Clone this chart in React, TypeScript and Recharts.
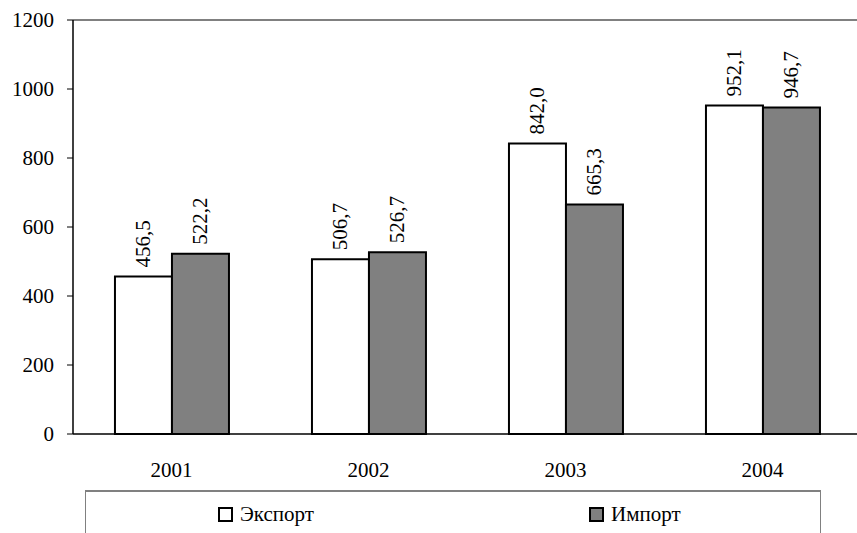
import React from 'react';
import { BarChart, Bar, XAxis, YAxis, ReferenceLine, LabelList, Legend } from 'recharts';

const years = ['2001', '2002', '2003', '2004'];
const exportVals = [456.5, 506.7, 842.0, 952.1];
const importVals = [522.2, 526.7, 665.3, 946.7];
const yTicks = [0, 200, 400, 600, 800, 1000, 1200];
const boundaryTicks = [0, 1, 2, 3, 4];
const seriesNames = ['Экспорт', 'Импорт'];

const data = years.map((y, i) => ({ year: y, exp: exportVals[i], imp: importVals[i] }));

const FONT = 'Liberation Serif';
const FS = 21;
const fmt = (v: number) => v.toFixed(1).replace('.', ',');

const RotLabel = (props: any) => {
  const { x, y, width, value } = props;
  const cx = x + width / 2;
  const ty = y - 9;
  return (
    <text
      x={cx}
      y={ty}
      transform={`rotate(-90, ${cx}, ${ty})`}
      textAnchor="start"
      dominantBaseline="central"
      style={{ fontFamily: FONT, fontSize: FS }}
      fill="#000"
    >
      {fmt(value)}
    </text>
  );
};

const XTick = (props: any) => {
  const { x, y, payload } = props;
  return (
    <text x={x} y={y} dy="0.71em" textAnchor="middle" fill="#000" style={{ fontFamily: FONT, fontSize: FS }}>
      {payload.value}
    </text>
  );
};

const YTick = (props: any) => {
  const { x, y, payload } = props;
  return (
    <text x={x} y={y} dy="0.355em" textAnchor="end" fill="#000" style={{ fontFamily: FONT, fontSize: FS }}>
      {payload.value}
    </text>
  );
};

const LegendBox = () => {
  const fills = ['#ffffff', '#808080'];
  const lefts = [132, 503];
  return (
    <div
      style={{
        position: 'relative',
        width: 736,
        height: 80,
        borderTop: '2px solid #808080',
        borderLeft: '1px solid #808080',
        borderRight: '1px solid #808080',
        boxSizing: 'border-box',
        color: '#000',
      }}
    >
      {seriesNames.map((n, i) => (
        <div key={n} style={{ position: 'absolute', left: lefts[i], top: 9, display: 'flex', alignItems: 'center' }}>
          <span
            style={{
              display: 'inline-block',
              width: 15,
              height: 15,
              boxSizing: 'border-box',
              border: '2px solid #000',
              background: fills[i],
              marginRight: 7,
            }}
          />
          <span style={{ lineHeight: '26px', fontFamily: FONT, fontSize: FS }}>{n}</span>
        </div>
      ))}
    </div>
  );
};

export default function App() {
  return (
    <div style={{ position: 'absolute', left: 0, top: 0, width: 857, height: 533, overflow: 'hidden', background: '#fff' }}>
      <BarChart
        width={880}
        height={533}
        data={data}
        margin={{ top: 20, right: 19, left: 0, bottom: 0 }}
        barCategoryGap="21.3%"
        barGap={0}
      >
        <XAxis
          xAxisId="grid"
          type="number"
          domain={[0, 4]}
          ticks={boundaryTicks}
          tick={false}
          tickSize={6}
          height={98}
          axisLine={false}
          tickLine={{ stroke: '#000' }}
          allowDataOverflow
        />
        <XAxis
          xAxisId="cat"
          dataKey="year"
          axisLine={{ stroke: '#000', strokeWidth: 1.5 }}
          tickLine={false}
          tickSize={0}
          tickMargin={28}
          height={1}
          tick={<XTick />}
        />
        <YAxis
          domain={[0, 1200]}
          ticks={yTicks}
          width={73}
          tickSize={6}
          tickMargin={13}
          axisLine={{ stroke: '#000', strokeWidth: 1.5 }}
          tickLine={{ stroke: '#000' }}
          tick={<YTick />}
          interval={0}
        />
        <ReferenceLine xAxisId="cat" y={1200} stroke="#808080" strokeWidth={2} />
        <Bar xAxisId="cat" dataKey="exp" name={seriesNames[0]} fill="#ffffff" stroke="#000" strokeWidth={2} isAnimationActive={false}>
          <LabelList dataKey="exp" content={RotLabel} />
        </Bar>
        <Bar xAxisId="cat" dataKey="imp" name={seriesNames[1]} fill="#808080" stroke="#000" strokeWidth={2} isAnimationActive={false}>
          <LabelList dataKey="imp" content={RotLabel} />
        </Bar>
        <Legend
          content={LegendBox}
          wrapperStyle={{ position: 'absolute', left: 85, top: 490, width: 736, height: 0, overflow: 'visible' }}
        />
      </BarChart>
    </div>
  );
}
